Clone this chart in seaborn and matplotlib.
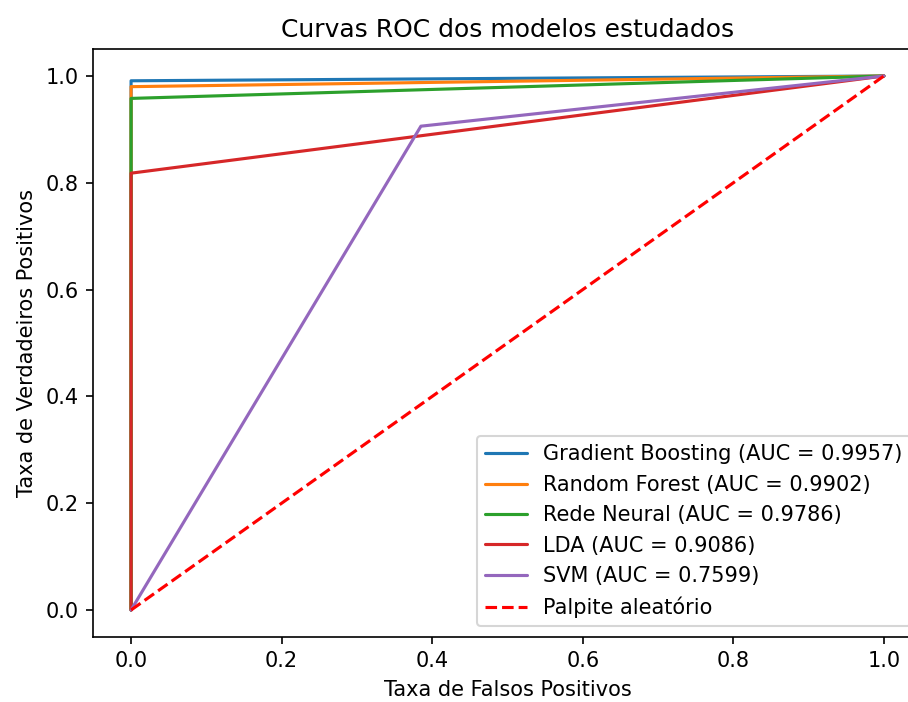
import pandas as pd
import seaborn as sns
import matplotlib.pyplot as plt

modelos = ['Gradient Boosting', 'Random Forest', 'Rede Neural', 'LDA', 'SVM']
auc = [0.9957, 0.9902, 0.9786, 0.9086, 0.7599]
fpr_meio = [0.0, 0.0, 0.0, 0.0, 0.385]
tpr_meio = [0.991, 0.980, 0.958, 0.818, 0.906]

linhas = []
for nome, a, f, t in zip(modelos, auc, fpr_meio, tpr_meio):
    rotulo = f'{nome} (AUC = {a:.4f})'
    for x, y in [(0.0, 0.0), (f, t), (1.0, 1.0)]:
        linhas.append({'fpr': x, 'tpr': y, 'modelo': rotulo})
df = pd.DataFrame(linhas)

sns.set_style('ticks')
plt.rcParams['axes.edgecolor'] = 'black'
plt.rcParams['xtick.color'] = 'black'
plt.rcParams['ytick.color'] = 'black'
plt.rcParams['text.color'] = 'black'
plt.rcParams['axes.labelcolor'] = 'black'

fig = plt.figure(figsize=(908 / 150, 702 / 150), dpi=150)
ax = fig.add_axes([0.1029, 0.093, 0.912, 0.8368])

sns.lineplot(data=df, x='fpr', y='tpr', hue='modelo', palette='tab10',
             estimator=None, sort=False, linewidth=1.5, ax=ax)
ax.plot([0, 1], [0, 1], 'r--', linewidth=1.5, label='Palpite aleatório')

ax.set_xlim(-0.05, 1.05)
ax.set_ylim(-0.05, 1.05)
ax.set_title('Curvas ROC dos modelos estudados', fontsize=12)
ax.set_xlabel('Taxa de Falsos Positivos')
ax.set_ylabel('Taxa de Verdadeiros Positivos')
ax.legend(loc='lower right', title=None)

plt.savefig('out.png', dpi=150)
